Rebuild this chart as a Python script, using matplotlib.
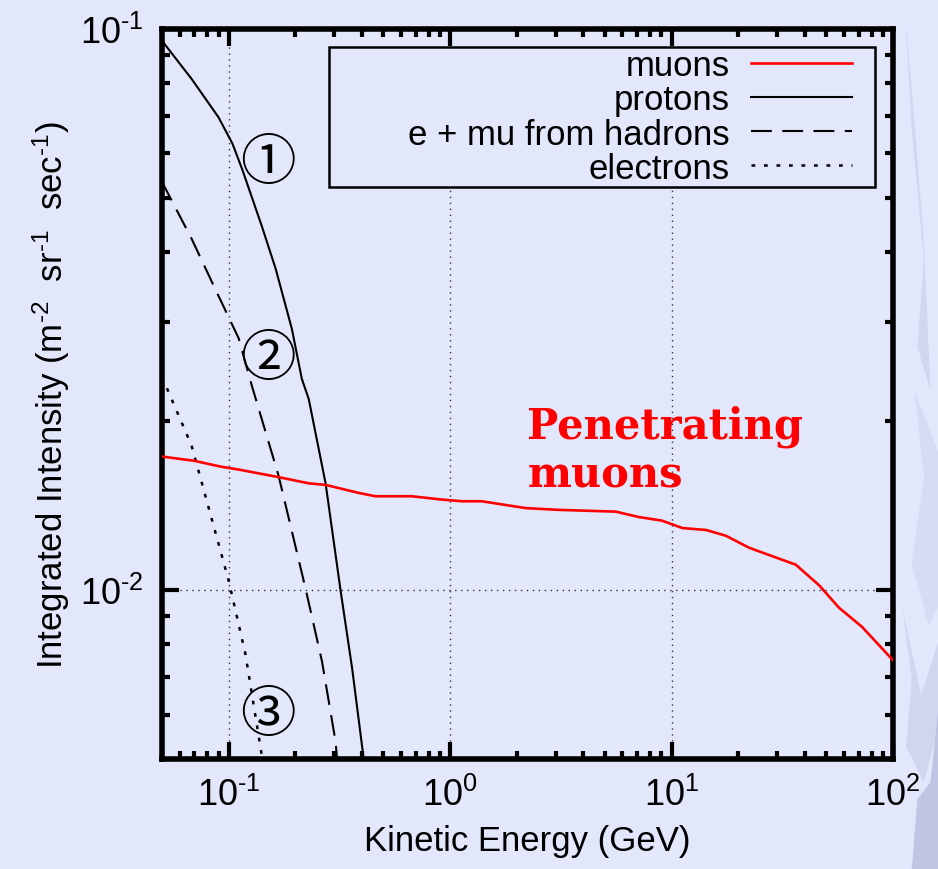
import numpy as np
import matplotlib.pyplot as plt
from matplotlib.patches import Rectangle, Polygon
from matplotlib.ticker import FuncFormatter

plt.rcParams['font.family'] = ['Liberation Sans', 'DejaVu Sans']
plt.rcParams['mathtext.fontset'] = 'custom'
plt.rcParams['mathtext.rm'] = 'Liberation Sans'
plt.rcParams['mathtext.it'] = 'Liberation Sans:italic'
plt.rcParams['mathtext.default'] = 'rm'
plt.rcParams['axes.unicode_minus'] = False

BG = '#E2E7FB'

# integrated intensity vs kinetic energy (GeV)
muon_E = [0.05, 0.07, 0.092, 0.111, 0.168, 0.23, 0.274, 0.387, 0.46, 0.67, 0.92,
          1.13, 1.39, 2.2, 3.1, 5.6, 7.1, 9.05, 11.2, 14.3, 17.6, 22.4, 28.4,
          36.4, 46.4, 57.1, 72.5, 100]
muon_I = [0.0173, 0.0170, 0.0166, 0.0164, 0.0159, 0.0155, 0.0154, 0.0149, 0.0147,
          0.0147, 0.0145, 0.0144, 0.0144, 0.0140, 0.0139, 0.0138, 0.0135, 0.0133,
          0.0129, 0.0128, 0.0125, 0.0119, 0.0115, 0.0111, 0.0102, 0.0093, 0.0086,
          0.0075]

proton_E = [0.05, 0.068, 0.09, 0.104, 0.115, 0.141, 0.163, 0.193, 0.214, 0.23,
            0.274, 0.32, 0.361, 0.41]
proton_I = [0.0953, 0.0815, 0.0696, 0.0625, 0.0563, 0.0446, 0.0374, 0.0292,
            0.0238, 0.0219, 0.0155, 0.0100, 0.00726, 0.0049]

hadron_E = [0.05, 0.068, 0.087, 0.111, 0.127, 0.168, 0.222, 0.264, 0.304, 0.31]
hadron_I = [0.0534, 0.0423, 0.0344, 0.0281, 0.0232, 0.0160, 0.0101, 0.00746,
            0.00537, 0.0049]

electron_E = [0.05, 0.068, 0.1, 0.119, 0.142]
electron_I = [0.024, 0.0181, 0.0104, 0.0077, 0.0050]

labels = ['muons', 'protons', 'e + mu from hadrons', 'electrons']
marks = ['①', '②', '③']


def pow10(v, pos):
    e = int(round(np.log10(v)))
    s = r'\text{-}%d' % -e if e < 0 else '%d' % e
    return r'$10^{%s}$' % s


fig = plt.figure(figsize=(9.38, 8.70), dpi=100, facecolor=BG)

# faint marbled streaks along the right edge of the slide
for pts, col, a in [
    ([(0.965, 0.98), (0.972, 0.85), (0.985, 0.70), (0.978, 0.60), (0.992, 0.55), (0.985, 0.72), (0.975, 0.86)], '#C4C8E4', 0.5),
    ([(0.975, 0.55), (0.985, 0.45), (0.972, 0.35), (0.990, 0.28), (1.0, 0.30), (1.0, 0.48)], '#C4C8E4', 0.35),
    ([(0.962, 0.30), (0.972, 0.22), (0.966, 0.14), (0.985, 0.10), (1.0, 0.16), (1.0, 0.26), (0.982, 0.20)], '#BDC1E0', 0.45),
    ([(0.972, 0.0), (0.978, 0.08), (0.992, 0.10), (1.0, 0.18), (1.0, 0.0)], '#B3B7DA', 0.7),
]:
    fig.patches.append(Polygon(pts, closed=True, transform=fig.transFigure,
                               facecolor=col, edgecolor='none', alpha=a,
                               zorder=0))

ax = fig.add_axes([0.1727, 0.1264, 0.7793, 0.8391], facecolor=BG)

ax.plot(muon_E, muon_I, color='red', lw=1.9, label=labels[0], zorder=4)
ax.plot(proton_E, proton_I, color='black', lw=1.5, label=labels[1], zorder=3)
ax.plot(hadron_E, hadron_I, color='black', lw=1.5, dashes=(10, 5),
        label=labels[2], zorder=3)
ax.plot(electron_E, electron_I, color='black', lw=1.8, dashes=(1.5, 3.5),
        label=labels[3], zorder=3)

ax.set_xscale('log')
ax.set_yscale('log')
ax.set_xlim(0.05, 100)
ax.set_ylim(0.005, 0.1)
ax.xaxis.set_major_formatter(FuncFormatter(pow10))
ax.yaxis.set_major_formatter(FuncFormatter(pow10))

ax.grid(True, which='major', color='#333333', lw=1.0, linestyle=(0, (1, 3.3)))
ax.tick_params(which='both', direction='in', top=True, right=True,
               width=3, labelsize=26, pad=13)
ax.tick_params(which='major', length=12)
ax.tick_params(which='minor', length=6)
for sp in ax.spines.values():
    sp.set_linewidth(4)

ax.set_xlabel('Kinetic Energy (GeV)', fontsize=25, labelpad=8)
ax.set_ylabel(r'Integrated Intensity (m$^{\text{-}2}$  sr$^{\text{-}1}$  sec$^{\text{-}1}$)',
              fontsize=25, labelpad=6)

# legend box, text right-aligned with samples on the right
ax.add_patch(Rectangle((0.229, 0.784), 0.746, 0.192, transform=ax.transAxes,
                       facecolor=BG, edgecolor='black', lw=1.8, zorder=2.5))
ax.legend(loc='upper right', bbox_to_anchor=(0.944, 0.972), frameon=False,
          markerfirst=False, fontsize=25, handlelength=2.9, handletextpad=0.63,
          labelspacing=0.03, borderpad=0, borderaxespad=0)

ax.text(0.500, 0.486, 'Penetrating\nmuons', transform=ax.transAxes,
        color='red', fontsize=30, fontweight='heavy', family='DejaVu Serif',
        ha='left', va='top', linespacing=1.2)

for m, yy in zip(marks, [0.8164, 0.5473, 0.0596]):
    ax.text(0.145, yy, m, transform=ax.transAxes, fontsize=40,
            family=['Noto Sans CJK JP', 'DejaVu Sans'], ha='center',
            va='center', zorder=5)

fig.savefig('out.png', dpi=100, facecolor=BG)
